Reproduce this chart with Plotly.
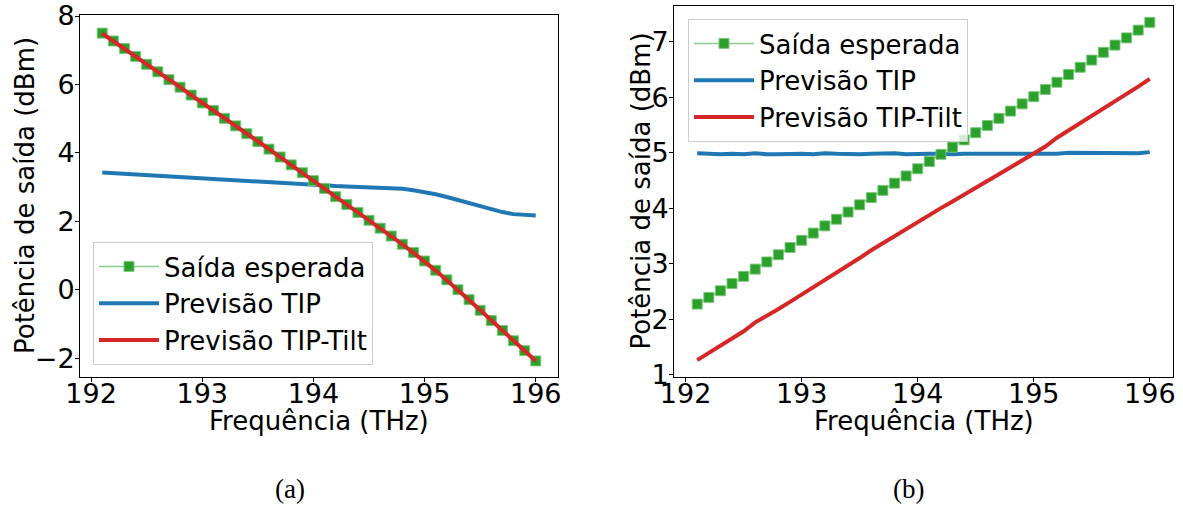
import plotly.graph_objects as go

# ---------------- data ----------------
freq = [192.1, 192.2, 192.3, 192.4, 192.5, 192.6, 192.7, 192.8, 192.9, 193.0,
        193.1, 193.2, 193.3, 193.4, 193.5, 193.6, 193.7, 193.8, 193.9, 194.0,
        194.1, 194.2, 194.3, 194.4, 194.5, 194.6, 194.7, 194.8, 194.9, 195.0,
        195.1, 195.2, 195.3, 195.4, 195.5, 195.6, 195.7, 195.8, 195.9, 196.0]

# (a)
a_esperada = [7.50, 7.27, 7.05, 6.82, 6.59, 6.37, 6.14, 5.92, 5.69, 5.46,
              5.24, 5.01, 4.79, 4.56, 4.33, 4.11, 3.88, 3.65, 3.42, 3.19,
              2.96, 2.72, 2.49, 2.26, 2.03, 1.80, 1.57, 1.33, 1.09, 0.84,
              0.57, 0.29, 0.00, -0.29, -0.60, -0.90, -1.19, -1.49, -1.78, -2.08]
a_tip = [3.43, 3.41, 3.39, 3.37, 3.35, 3.33, 3.31, 3.29, 3.27, 3.25,
         3.23, 3.22, 3.20, 3.18, 3.16, 3.14, 3.12, 3.10, 3.08, 3.06,
         3.04, 3.03, 3.02, 3.01, 3.00, 2.99, 2.97, 2.95, 2.91, 2.86,
         2.79, 2.71, 2.62, 2.52, 2.43, 2.34, 2.27, 2.21, 2.18, 2.17]
a_tilt = [7.49, 7.27, 7.04, 6.82, 6.60, 6.37, 6.15, 5.92, 5.69, 5.47,
          5.24, 5.02, 4.79, 4.56, 4.34, 4.11, 3.88, 3.65, 3.42, 3.19,
          2.95, 2.72, 2.49, 2.26, 2.03, 1.80, 1.56, 1.33, 1.08, 0.83,
          0.56, 0.28, 0.00, -0.29, -0.59, -0.89, -1.19, -1.49, -1.79, -2.08]

# (b)
b_esperada = [2.27, 2.39, 2.51, 2.64, 2.77, 2.90, 3.03, 3.16, 3.29, 3.42,
              3.55, 3.68, 3.80, 3.93, 4.06, 4.19, 4.32, 4.45, 4.58, 4.71,
              4.84, 4.97, 5.10, 5.23, 5.36, 5.49, 5.62, 5.75, 5.88, 6.01,
              6.14, 6.27, 6.41, 6.54, 6.67, 6.81, 6.94, 7.07, 7.21, 7.35]
b_tip = [4.99, 4.98, 4.97, 4.98, 4.97, 4.99, 4.97, 4.97, 4.98, 4.98,
         4.97, 4.99, 4.98, 4.97, 4.97, 4.98, 4.98, 4.99, 4.97, 4.98,
         4.98, 4.98, 4.97, 4.98, 4.98, 4.98, 4.98, 4.98, 4.98, 4.98,
         4.98, 4.98, 5.00, 5.00, 4.99, 4.99, 4.99, 4.99, 4.99, 5.01]
b_tilt = [1.26, 1.39, 1.52, 1.65, 1.78, 1.94, 2.05, 2.18, 2.31, 2.44,
          2.56, 2.71, 2.82, 2.96, 3.10, 3.24, 3.37, 3.49, 3.63, 3.76,
          3.88, 4.00, 4.12, 4.25, 4.37, 4.49, 4.61, 4.73, 4.86, 4.98,
          5.11, 5.27, 5.40, 5.52, 5.65, 5.78, 5.92, 6.06, 6.19, 6.33]

x_ticks = [192, 193, 194, 195, 196]
a_yticks = [-2, 0, 2, 4, 6, 8]
a_yticklabels = ["\u22122", "0", "2", "4", "6", "8"]
b_yticks = [1, 2, 3, 4, 5, 6, 7]

names = ["Saída esperada", "Previsão TIP", "Previsão TIP-Tilt"]
x_title = "Frequência (THz)"
y_title = "Potência de saída (dBm)"
captions = ["(a)", "(b)"]

GREEN = "#2ca02c"
BLUE = "#1f77b4"
RED = "#d62728"
W, H = 1183, 505
FONT = "DejaVu Sans"
FS = 27

fig = go.Figure()


def add_panel(xa, ya, leg, esperada, tip, tilt):
    fig.add_trace(go.Scatter(x=freq, y=tip, mode="lines", name=names[1],
                             line=dict(color=BLUE, width=4),
                             xaxis=xa, yaxis=ya, legend=leg, legendrank=2))
    fig.add_trace(go.Scatter(x=freq, y=esperada, mode="lines+markers", name=names[0],
                             line=dict(color="rgba(44,160,44,0.55)", width=1.5),
                             marker=dict(symbol="square", size=10, color=GREEN,
                                         line=dict(width=1, color="rgba(120,200,120,0.9)")),
                             xaxis=xa, yaxis=ya, legend=leg, legendrank=1))
    fig.add_trace(go.Scatter(x=freq, y=tilt, mode="lines", name=names[2],
                             line=dict(color=RED, width=4),
                             xaxis=xa, yaxis=ya, legend=leg, legendrank=3))


add_panel("x", "y", "legend", a_esperada, a_tip, a_tilt)
add_panel("x2", "y2", "legend2", b_esperada, b_tip, b_tilt)

axis_common = dict(showline=True, mirror=True, linecolor="black", linewidth=1,
                   ticks="outside", ticklen=4, tickwidth=1, tickcolor="black",
                   showgrid=False, zeroline=False, automargin=False,
                   tickfont=dict(family=FONT, size=FS, color="black"))
x_common = dict(ticklabelstandoff=-11, **axis_common)
y_common = dict(ticklabelstandoff=-5, **axis_common)

legend_common = dict(bgcolor="rgba(255,255,255,0.8)", bordercolor="#cccccc", borderwidth=1,
                     font=dict(family=FONT, size=26, color="black"),
                     itemwidth=60,
                     xanchor="left", yanchor="top", traceorder="normal")

title_font = dict(family=FONT, size=26, color="black")

fig.update_layout(
    width=W, height=H,
    margin=dict(l=0, r=0, t=0, b=0, autoexpand=False),
    paper_bgcolor="white", plot_bgcolor="white",
    font=dict(family=FONT, color="black"),
    xaxis=dict(domain=[80 / W, 558 / W], range=[191.9, 196.2], tickvals=x_ticks,
               anchor="y", **x_common),
    yaxis=dict(domain=[1 - 377 / H, 1 - 15 / H], range=[-2.55, 8.03], tickvals=a_yticks,
               ticktext=a_yticklabels, anchor="x", **y_common),
    xaxis2=dict(domain=[674 / W, 1173 / W], range=[191.9, 196.2], tickvals=x_ticks,
                anchor="y2", **x_common),
    yaxis2=dict(domain=[1 - 377 / H, 1 - 6 / H], range=[0.955, 7.645], tickvals=b_yticks,
                anchor="x2", **y_common),
    legend=dict(x=93 / W, y=1 - 242 / H, **legend_common),
    legend2=dict(x=688 / W, y=1 - 19 / H, **legend_common),
    showlegend=True,
)

# axis titles as annotations (precise placement)
for cx in [319, 923.5]:
    fig.add_annotation(text=x_title, x=cx / W, y=1 - 421 / H, xref="paper", yref="paper",
                       showarrow=False, font=title_font, xanchor="center", yanchor="middle")
for cx, cy in [(25, 196), (640, 191.5)]:
    fig.add_annotation(text=y_title, x=cx / W, y=1 - cy / H, xref="paper", yref="paper",
                       showarrow=False, font=title_font, textangle=-90,
                       xanchor="center", yanchor="middle")

for txt, cx in zip(captions, [290, 908]):
    fig.add_annotation(text=txt, x=cx / W, y=1 - 489 / H, xref="paper", yref="paper",
                       showarrow=False, font=dict(family="Liberation Serif", size=27, color="black"),
                       xanchor="center", yanchor="middle")

fig.write_html("out.html")
